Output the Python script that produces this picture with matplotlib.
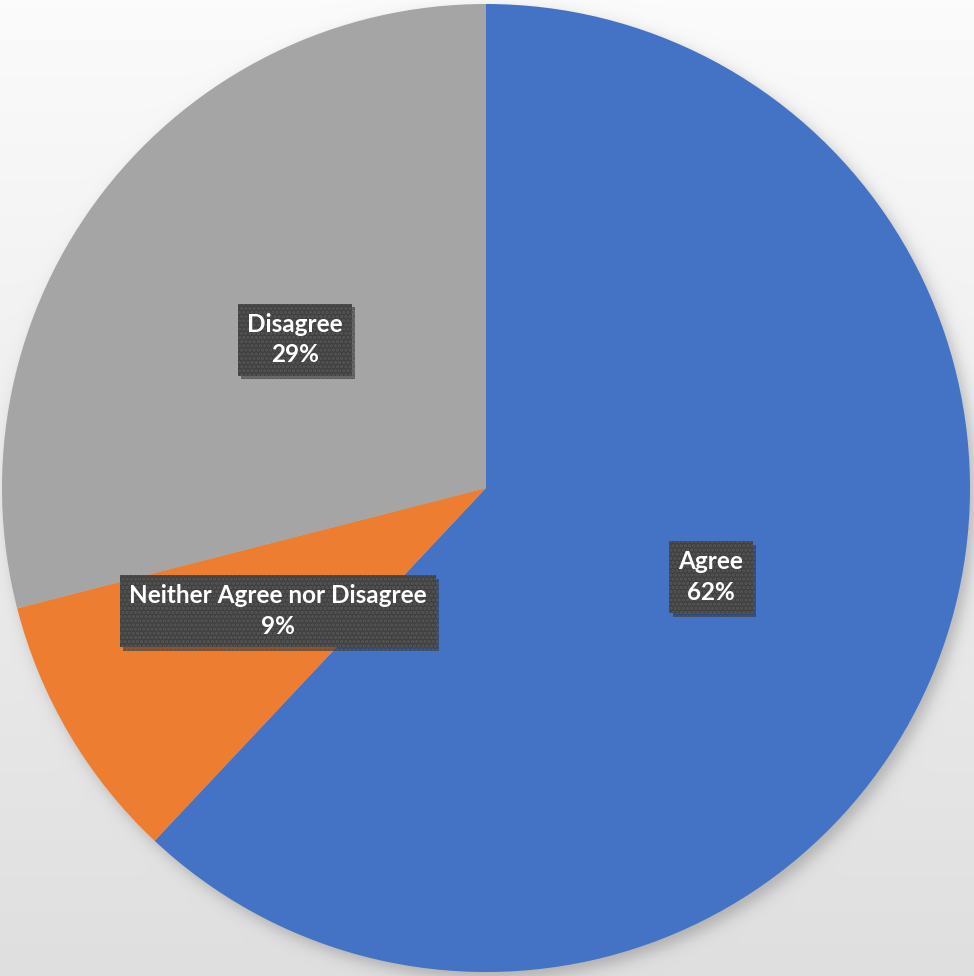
import numpy as np
import matplotlib
matplotlib.use("Agg")
import matplotlib.pyplot as plt
import matplotlib.patheffects as pe

categories = ["Agree", "Neither Agree nor Disagree", "Disagree"]
shares = [62, 9, 29]
colors = ["#4472C4", "#ED7D31", "#A5A5A5"]

W, H = 974, 976
DPI = 100
plt.rcParams["hatch.linewidth"] = 1.6

fig = plt.figure(figsize=(W / DPI, H / DPI), dpi=DPI)

# background: vertical white-to-grey gradient with a soft drop shadow under the pie
cx, cy, R = 486.0, 488.0, 484.0
yy, xx = np.mgrid[0:H, 0:W].astype(float)
grad = 0.985 - (0.985 - 0.875) * (yy / H)
d = np.hypot(xx - (cx + 5), yy - (cy + 6))
shadow = 0.22 * 0.5 * (1 - np.tanh((d - R) / 9.0))
bg = grad * (1 - shadow)
bg_ax = fig.add_axes([0, 0, 1, 1], zorder=0)
bg_ax.imshow(np.dstack([bg, bg, bg]), extent=(0, W, 0, H), origin="upper", aspect="auto")
bg_ax.set_axis_off()

ax = fig.add_axes([0, 0, 1, 1], zorder=1)
ax.patch.set_alpha(0)
wedges, _ = ax.pie(shares, colors=colors, startangle=90, counterclock=False,
                   radius=R, center=(cx, H - cy),
                   wedgeprops=dict(linewidth=0))
ax.set_xlim(0, W)
ax.set_ylim(0, H)
ax.set_aspect("equal")
ax.set_axis_off()

for w, name, val in zip(wedges, categories, shares):
    mid = np.deg2rad((w.theta1 + w.theta2) / 2)
    x = cx + 0.5 * R * np.cos(mid)
    y = (H - cy) + 0.5 * R * np.sin(mid)
    t = ax.text(x, y, f"{name}\n{val}%", color="white", zorder=4,
                ha="center", va="center", fontsize=17.5, fontweight="bold",
                family="Lato", linespacing=1.4, multialignment="center",
                bbox=dict(boxstyle="square,pad=0.38", facecolor="#404040",
                          edgecolor="#575757", linewidth=0, hatch="...."))
    t.get_bbox_patch().set_path_effects([
        pe.SimplePatchShadow(offset=(2.5, -2.5), shadow_rgbFace="#000000", alpha=0.35),
        pe.Normal(),
    ])

fig.savefig("out.png", dpi=DPI)
